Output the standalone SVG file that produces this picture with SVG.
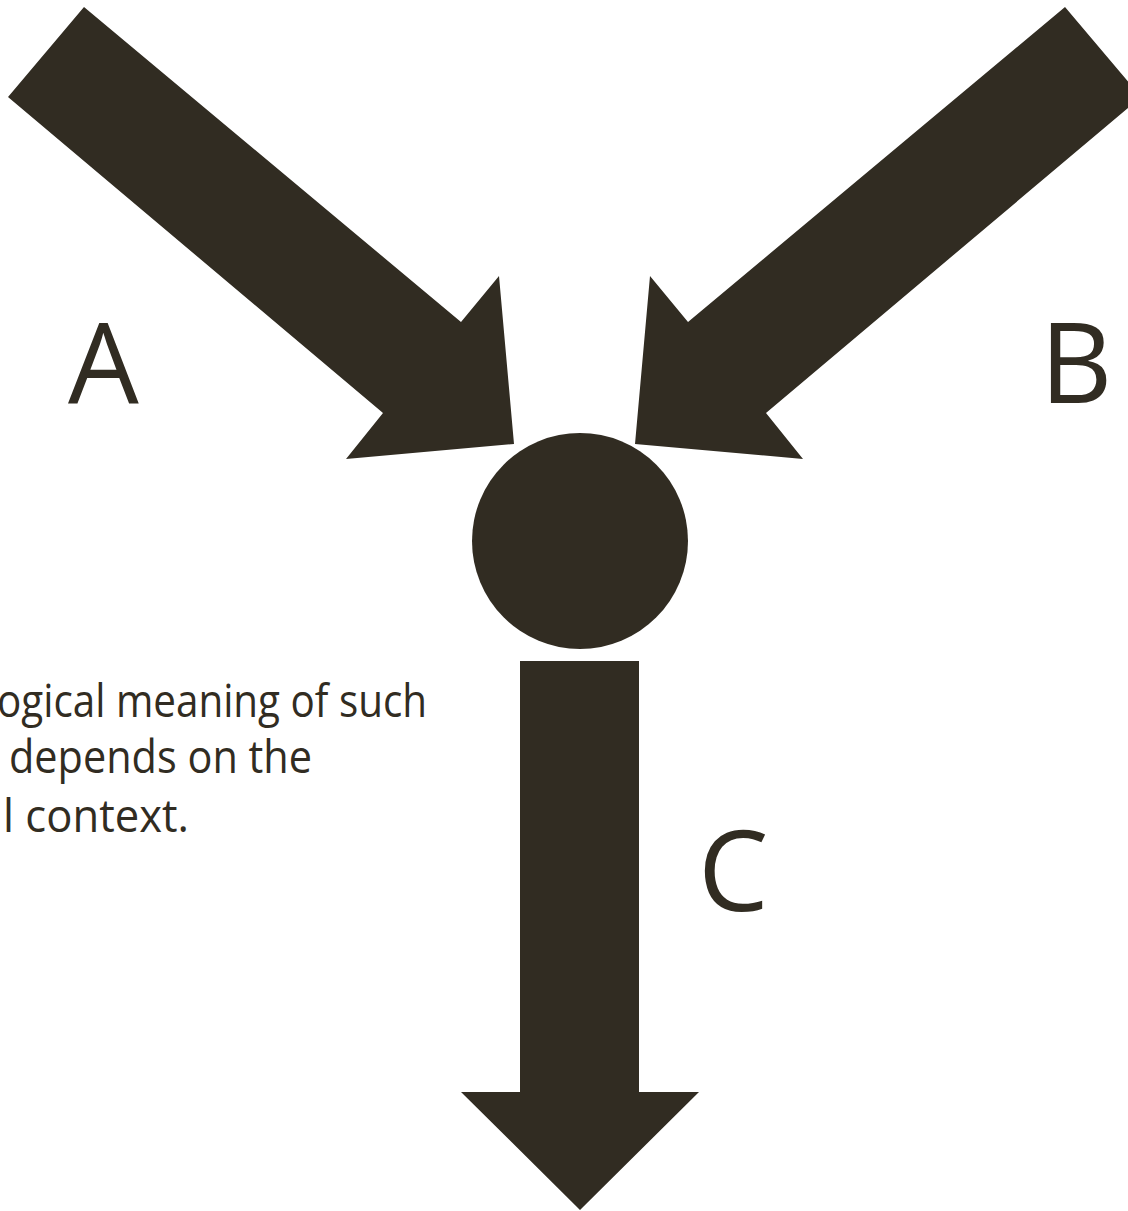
<svg xmlns="http://www.w3.org/2000/svg" width="1128" height="1211" viewBox="0 0 1128 1211">
<style>
.shape{fill:#312c22;}
.big{font-family:"Open Sans","Liberation Sans",sans-serif;font-size:112px;fill:#312c22;}
.body{font-family:"Open Sans","Liberation Sans",sans-serif;font-size:46px;fill:#312c22;}
</style>
<rect width="1128" height="1211" fill="#ffffff"/>
<g id="connectors">
<polygon id="arrowA" class="shape" points="84,7 8,97 383,413 346,459 514,444 499,276 461,322"/>
<polygon id="arrowB" class="shape" points="1065,7 1141,97 766,413 803,459 635,444 650,276 688,322"/>
<polygon id="arrowC" class="shape" points="520,661 639,661 639,1092 699,1092 580,1210 461,1092 520,1092"/>
</g>
<g id="node-center">
<circle class="shape" cx="580" cy="541" r="108"/>
</g>
<g id="label-A"><text class="big" x="68" y="403">A</text></g>
<g id="label-B"><text class="big" x="1040" y="403">B</text></g>
<g id="label-C"><text class="big" x="698" y="911">C</text></g>
<g id="caption">
<text class="body" x="-3" y="717" textLength="430" lengthAdjust="spacingAndGlyphs">ogical meaning of such</text>
<text class="body" x="9" y="773" textLength="303" lengthAdjust="spacingAndGlyphs">depends on the</text>
<text class="body" x="3" y="832" textLength="186" lengthAdjust="spacingAndGlyphs">l context.</text>
</g>
</svg>
